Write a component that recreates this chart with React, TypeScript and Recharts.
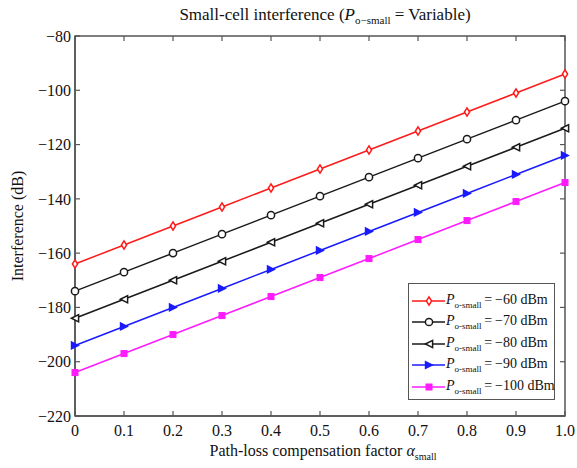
import { LineChart, Line, XAxis, YAxis, Legend, ReferenceArea, ReferenceLine } from 'recharts'

const alpha = [0, 0.1, 0.2, 0.3, 0.4, 0.5, 0.6, 0.7, 0.8, 0.9, 1.0]
const p60 = [-164, -157, -150, -143, -136, -129, -122, -115, -108, -101, -94]
const p70 = [-174, -167, -160, -153, -146, -139, -132, -125, -118, -111, -104]
const p80 = [-184, -177, -170, -163, -156, -149, -142, -135, -128, -121, -114]
const p90 = [-194, -187, -180, -173, -166, -159, -152, -145, -138, -131, -124]
const p100 = [-204, -197, -190, -183, -176, -169, -162, -155, -148, -141, -134]
const xTicks = [0, 0.1, 0.2, 0.3, 0.4, 0.5, 0.6, 0.7, 0.8, 0.9, 1.0]
const yTicks = [-220, -200, -180, -160, -140, -120, -100, -80]

type Shape = 'diamond' | 'circle' | 'left' | 'right' | 'square'

const series: Array<{ key: string; label: string; color: string; shape: Shape; values: number[] }> = [
  { key: 'p60', label: '−60 dBm', color: '#ff1a1a', shape: 'diamond', values: p60 },
  { key: 'p70', label: '−70 dBm', color: '#1a1a1a', shape: 'circle', values: p70 },
  { key: 'p80', label: '−80 dBm', color: '#1a1a1a', shape: 'left', values: p80 },
  { key: 'p90', label: '−90 dBm', color: '#1a1aff', shape: 'right', values: p90 },
  { key: 'p100', label: '−100 dBm', color: '#ff1aff', shape: 'square', values: p100 },
]

const data = alpha.map((a, i) => {
  const row: Record<string, number> = { alpha: a }
  series.forEach((s) => (row[s.key] = s.values[i]))
  return row
})

const minus = (v: number) => String(v).replace('-', '−')
const axisColor = '#555'
const axisLine = { stroke: axisColor, strokeWidth: 1.5 }
// inward tick length: ~5px in data units
const tickDx = 0.0102
const tickDy = 1.84

function Marker({ cx, cy, shape, color }: { cx: number; cy: number; shape: Shape; color: string }) {
  const r = 3.6
  switch (shape) {
    case 'diamond':
      return (
        <polygon
          points={`${cx},${cy - r - 0.5} ${cx + r - 1},${cy} ${cx},${cy + r + 0.5} ${cx - r + 1},${cy}`}
          fill="#fff"
          stroke={color}
          strokeWidth={1.5}
        />
      )
    case 'circle':
      return <circle cx={cx} cy={cy} r={r} fill="#fff" stroke={color} strokeWidth={1.5} />
    case 'left':
      return (
        <polygon
          points={`${cx - r},${cy} ${cx + r},${cy - r} ${cx + r},${cy + r}`}
          fill="#fff"
          stroke={color}
          strokeWidth={1.5}
        />
      )
    case 'right':
      return (
        <polygon
          points={`${cx + r},${cy} ${cx - r},${cy - r} ${cx - r},${cy + r}`}
          fill={color}
          stroke={color}
          strokeWidth={1.2}
        />
      )
    default:
      return <rect x={cx - 3} y={cy - 3} width={6} height={6} fill={color} stroke={color} />
  }
}

function LegendBox() {
  return (
    <div
      style={{
        border: `1.5px solid ${axisColor}`,
        background: '#fff',
        width: 142,
        padding: '6px 0 1px 3px',
        fontSize: 14,
        color: '#111',
        textAlign: 'left',
      }}
    >
      {series.map((s) => (
        <div key={s.key} style={{ display: 'flex', alignItems: 'center', height: 21.5 }}>
          <svg width={33} height={14} style={{ flex: 'none' }}>
            <line x1={0} y1={7} x2={33} y2={7} stroke={s.color} strokeWidth={1.5} />
            <Marker cx={17} cy={7} shape={s.shape} color={s.color} />
          </svg>
          <span style={{ whiteSpace: 'nowrap', marginLeft: 1 }}>
            <i>P</i>
            <sub style={{ fontSize: 9 }}>o-small</sub>
            {'\u2009=\u2009'}
            {s.label}
          </span>
        </div>
      ))}
    </div>
  )
}

export default function App() {
  return (
    <div
      style={{
        position: 'absolute',
        left: 0,
        top: 0,
        width: 577,
        height: 468,
        background: '#fff',
        fontFamily: '"Liberation Serif", serif',
        color: '#111',
      }}
    >
      <div style={{ position: 'absolute', left: 80, width: 490, top: 5, textAlign: 'center', fontSize: 17 }}>
        Small-cell interference (<i>P</i>
        <sub style={{ fontSize: 11 }}>o−small</sub> = Variable)
      </div>
      <div
        style={{
          position: 'absolute',
          left: 18,
          top: 226,
          fontSize: 16,
          whiteSpace: 'nowrap',
          transform: 'translate(-50%, -50%) rotate(-90deg)',
        }}
      >
        Interference (dB)
      </div>
      <div style={{ position: 'absolute', left: 78, width: 490, top: 442, textAlign: 'center', fontSize: 16 }}>
        Path-loss compensation factor <i>α</i>
        <sub style={{ fontSize: 10 }}>small</sub>
      </div>
      <LineChart width={577} height={468} data={data} margin={{ top: 36, right: 12, bottom: 0, left: 0 }}>
        <XAxis
          dataKey="alpha"
          type="number"
          domain={[0, 1]}
          ticks={xTicks}
          tickFormatter={(v: number) => (v === 0 ? '0' : v.toFixed(1))}
          height={52}
          tickSize={-5}
          tickMargin={14}
          axisLine={axisLine}
          tickLine={false}
          tick={{ fontSize: 16, fill: '#111' }}
        />
        <YAxis
          type="number"
          domain={[-220, -80]}
          ticks={yTicks}
          tickFormatter={minus}
          width={75}
          tickSize={-5}
          tickMargin={9}
          axisLine={axisLine}
          tickLine={false}
          tick={{ fontSize: 16, fill: '#111' }}
        />
        <ReferenceArea
          x1={0}
          x2={1}
          y1={-220}
          y2={-80}
          fill="none"
          fillOpacity={0}
          stroke={axisColor}
          strokeWidth={1.5}
          ifOverflow="visible"
        />
        {xTicks.map((t) => (
          <ReferenceLine
            key={`xb${t}`}
            segment={[{ x: t, y: -220 }, { x: t, y: -220 + tickDy }]}
            stroke={axisColor}
            strokeWidth={1.2}
            ifOverflow="visible"
          />
        ))}
        {xTicks.map((t) => (
          <ReferenceLine
            key={`xt${t}`}
            segment={[{ x: t, y: -80 }, { x: t, y: -80 - tickDy }]}
            stroke={axisColor}
            strokeWidth={1.2}
            ifOverflow="visible"
          />
        ))}
        {yTicks.map((t) => (
          <ReferenceLine
            key={`yl${t}`}
            segment={[{ x: 0, y: t }, { x: tickDx, y: t }]}
            stroke={axisColor}
            strokeWidth={1.2}
            ifOverflow="visible"
          />
        ))}
        {yTicks.map((t) => (
          <ReferenceLine
            key={`yr${t}`}
            segment={[{ x: 1 - tickDx, y: t }, { x: 1, y: t }]}
            stroke={axisColor}
            strokeWidth={1.2}
            ifOverflow="visible"
          />
        ))}
        <Legend
          layout="horizontal"
          verticalAlign="middle"
          align="center"
          wrapperStyle={{ left: 408, top: 283, width: 146, right: 'auto', bottom: 'auto' }}
          content={() => <LegendBox />}
        />
        {series.map((s) => (
          <Line
            key={s.key}
            dataKey={s.key}
            stroke={s.color}
            strokeWidth={1.5}
            isAnimationActive={false}
            dot={(p: any) => <Marker key={`${s.key}-${p.index}`} cx={p.cx} cy={p.cy} shape={s.shape} color={s.color} />}
          />
        ))}
      </LineChart>
    </div>
  )
}
